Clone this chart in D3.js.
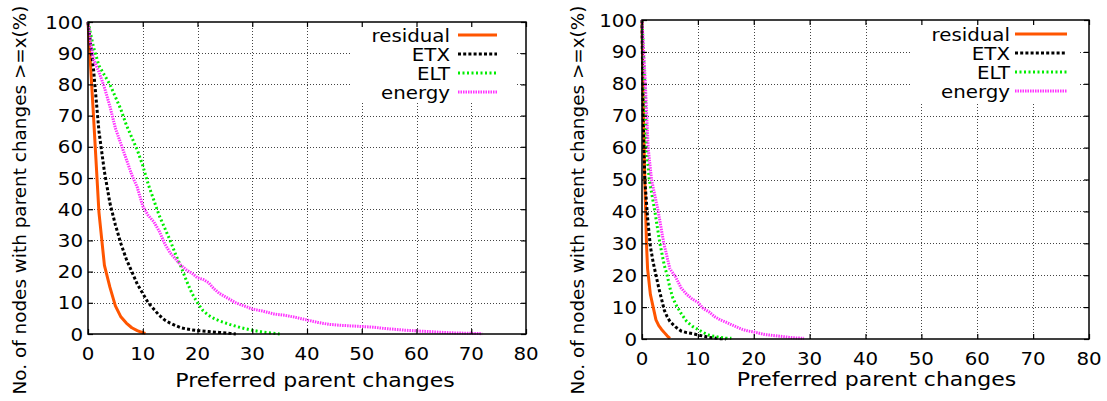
<!DOCTYPE html>
<html><head><meta charset="utf-8">
<script src="https://cdn.jsdelivr.net/npm/d3@7"></script>
<style>html,body{margin:0;padding:0;background:#fff;}svg{display:block;}</style>
</head><body>
<script>
// ---- data ----
const seriesNames = ["residual", "ETX", "ELT", "energy"];
const xTicks = [0, 10, 20, 30, 40, 50, 60, 70, 80];
const yTicks = [0, 10, 20, 30, 40, 50, 60, 70, 80, 90, 100];
const xTitle = "Preferred parent changes";
const yTitle = "No. of nodes with parent changes >=x(%)";

// left chart
const leftResidual = [[0,100],[1,70],[2,39],[3,22],[4,15],[5,9],[6,5.5],[7,3.5],[8,2],[9,1.1],[10,0.4],[10.5,0.2]];
const leftETX = [[0,100],[1,85],[2,65],[3,52],[4,42],[5,35],[6,29],[7,24],[8,20],[9,16],[10,13],[11,10],[12,8],[13,6],[14,4.5],[15,3.5],[16,2.7],[17,2.0],[18,1.6],[19,1.3],[20,1.1],[22,0.8],[24,0.5],[26,0.2],[27,0]];
const leftELT = [[0,100],[1,92],[2,86],[3,83],[4,80],[5,76],[6,72],[7,67],[8,63],[9,59],[10,54],[11,48],[12,43],[13,38],[14,34],[15,30],[16,25.5],[17,21.5],[18,17],[19,13],[20,10],[21,7.5],[22,6],[23,5],[24,4.2],[25,3.6],[26,3],[28,2],[30,1.2],[32,0.6],[35,0]];
const leftEnergy = [[0,100],[0.5,93],[1,88],[2,84],[3,79],[4,73],[5,66],[6,61],[7,56],[8,51],[9,47],[10,41],[11,38],[12,36],[13,33],[14,29],[15,26],[16,24],[17,22],[18,20.5],[19,19.5],[20,18],[21,17.5],[22,16.5],[23,14.5],[24,13],[25,12],[26,11],[27,10],[28,9.3],[29,8.7],[30,8],[32,7.3],[34,6.4],[36,6],[38,5.3],[40,4.5],[42,3.7],[44,3.1],[46,2.8],[48,2.6],[50,2.4],[52,2.2],[54,1.8],[56,1.5],[58,1.2],[60,1.0],[62,0.8],[64,0.6],[66,0.4],[68,0.3],[70,0.2],[72,0.1]];

// right chart
const rightResidual = [[0,100],[0.25,70],[0.5,50],[0.8,30],[1,22],[1.5,14],[2,10],[2.5,6],[3,4.2],[3.5,3],[4,2],[4.5,1],[5,0.2]];
const rightETX = [[0,100],[0.2,70],[0.5,50],[1,38],[1.5,29],[2,24],[2.5,20],[3,16],[3.5,12.5],[4,9],[4.5,7],[5,5.5],[6,3.8],[7,2.5],[8,2],[9,1.7],[10,1.3],[11,0.9],[12,0.5],[13,0.3],[14,0.1],[15,0]];
const rightELT = [[0,100],[0.5,80],[0.8,60],[1.3,50],[2.3,40],[3.2,30],[4,23],[4.5,20],[5,16],[5.5,13],[6,11],[7,8],[8,5.5],[9,4],[10,3],[11,2],[12,1.2],[13,0.8],[14,0.5],[15,0.3],[16,0.2]];
const rightEnergy = [[0,100],[0.3,90],[0.6,80],[1.1,60],[1.7,50],[2.9,40],[3.9,30],[5,22],[6,19.5],[7,16],[8,14],[9,12.5],[10,11.5],[11,9.5],[12,8.5],[13,7],[14,6],[15,5.3],[16,4.5],[17,3.7],[18,3],[19,2.5],[20,2.2],[21,1.8],[22,1.4],[24,1],[26,0.6],[27,0.4],[29,0.2]];

// ---- styles ----
const styles = [
  {color:"#ff5500", width:3, dash:null},
  {color:"#000000", width:3, dash:"3,2.2"},
  {color:"#00ee00", width:3, dash:"2,2.5"},
  {color:"#ff33ff", width:3, dash:"1.5,1"}
];
const SX = 1.1; // horizontal text stretch

const W = 1107, H = 401;
const svg = d3.select("body").append("svg").attr("width", W).attr("height", H)
  .style("font-family", "'DejaVu Sans', sans-serif");

function stext(g, x, y, str, size, anchor) {
  return g.append("text")
    .attr("transform", `translate(${x},${y}) scale(${SX},1)`)
    .attr("text-anchor", anchor)
    .attr("font-size", size)
    .attr("fill", "#000")
    .text(str);
}

function panel(cfg, series) {
  const g = svg.append("g");
  const x = d3.scaleLinear().domain([0, 80]).range([cfg.x0, cfg.x1]);
  const y = d3.scaleLinear().domain([0, 100]).range([cfg.y1, cfg.y0]);

  // grid
  const grid = g.append("g").attr("stroke", "#444").attr("stroke-width", 1).attr("stroke-dasharray", "1,2");
  xTicks.slice(1, -1).forEach(t => {
    grid.append("line").attr("x1", Math.round(x(t)) + 0.5).attr("x2", Math.round(x(t)) + 0.5)
      .attr("y1", cfg.y0).attr("y2", cfg.y1);
  });
  yTicks.slice(1, -1).forEach(t => {
    grid.append("line").attr("y1", Math.round(y(t)) + 0.5).attr("y2", Math.round(y(t)) + 0.5)
      .attr("x1", cfg.x0).attr("x2", cfg.x1);
  });

  // legend background
  g.append("rect").attr("x", cfg.lgX0).attr("y", cfg.y0 + 1)
    .attr("width", cfg.lgX1 - cfg.lgX0).attr("height", cfg.lgY1 - cfg.y0 - 1).attr("fill", "#fff");

  // series
  const line = d3.line().x(d => x(d[0])).y(d => y(d[1]));
  series.forEach((s, i) => {
    const st = styles[i];
    g.append("path").datum(s).attr("d", line).attr("fill", "none")
      .attr("stroke", st.color).attr("stroke-width", st.width)
      .attr("stroke-dasharray", st.dash).attr("stroke-linejoin", "round");
  });

  // legend
  seriesNames.forEach((n, i) => {
    const st = styles[i];
    const ly = cfg.lgRows[i];
    stext(g, cfg.lgText, ly + 6.5, n, 18, "end");
    g.append("line").attr("x1", cfg.lgS0).attr("x2", cfg.lgS1).attr("y1", ly).attr("y2", ly)
      .attr("stroke", st.color).attr("stroke-width", st.width).attr("stroke-dasharray", st.dash);
  });

  // axes via d3
  const axB = g.append("g").attr("transform", `translate(0,${cfg.y1})`)
    .call(d3.axisBottom(x).tickValues(xTicks).tickSizeInner(-5).tickSizeOuter(0).tickFormat(""));
  const axT = g.append("g").attr("transform", `translate(0,${cfg.y0})`)
    .call(d3.axisTop(x).tickValues(xTicks).tickSizeInner(-5).tickSizeOuter(0).tickFormat(""));
  const axL = g.append("g").attr("transform", `translate(${cfg.x0},0)`)
    .call(d3.axisLeft(y).tickValues(yTicks).tickSizeInner(-5).tickSizeOuter(0).tickFormat(""));
  const axR = g.append("g").attr("transform", `translate(${cfg.x1},0)`)
    .call(d3.axisRight(y).tickValues(yTicks).tickSizeInner(-5).tickSizeOuter(0).tickFormat(""));
  [axB, axT, axL, axR].forEach(a => {
    a.select(".domain").remove();
    a.selectAll(".tick line").attr("stroke", "#000").attr("stroke-width", 1.2);
  });
  g.append("rect").attr("x", cfg.x0).attr("y", cfg.y0)
    .attr("width", cfg.x1 - cfg.x0).attr("height", cfg.y1 - cfg.y0)
    .attr("fill", "none").attr("stroke", "#000").attr("stroke-width", 1.5);

  // tick labels
  xTicks.forEach(t => stext(g, x(t), cfg.xLabY, String(t), 18, "middle"));
  yTicks.forEach(t => stext(g, cfg.x0 - 5, y(t) + 6.5, String(t), 18, "end"));

  // titles
  stext(g, (cfg.x0 + cfg.x1) / 2 + cfg.xTitleDx, cfg.xTitleY, xTitle, 20, "middle");
  g.append("text")
    .attr("transform", `translate(${cfg.yTitleX},${cfg.yTitleY}) rotate(-90)`)
    .attr("text-anchor", "middle").attr("font-size", 18.4).attr("fill", "#000")
    .text(yTitle);
}

panel({x0:88, x1:526, y0:22, y1:334, xLabY:360, xTitleY:387, xTitleDx:8, yTitleX:26, yTitleY:200,
       lgX0:352, lgX1:515, lgY1:102, lgText:450, lgS0:458, lgS1:497, lgRows:[35,54,73,92]},
      [leftResidual, leftETX, leftELT, leftEnergy]);
panel({x0:642, x1:1089, y0:20, y1:339, xLabY:365, xTitleY:386, xTitleDx:11, yTitleX:584, yTitleY:200,
       lgX0:912, lgX1:1078, lgY1:102, lgText:1010, lgS0:1015, lgS1:1067, lgRows:[34,53,72,91]},
      [rightResidual, rightETX, rightELT, rightEnergy]);
</script>
</body></html>
